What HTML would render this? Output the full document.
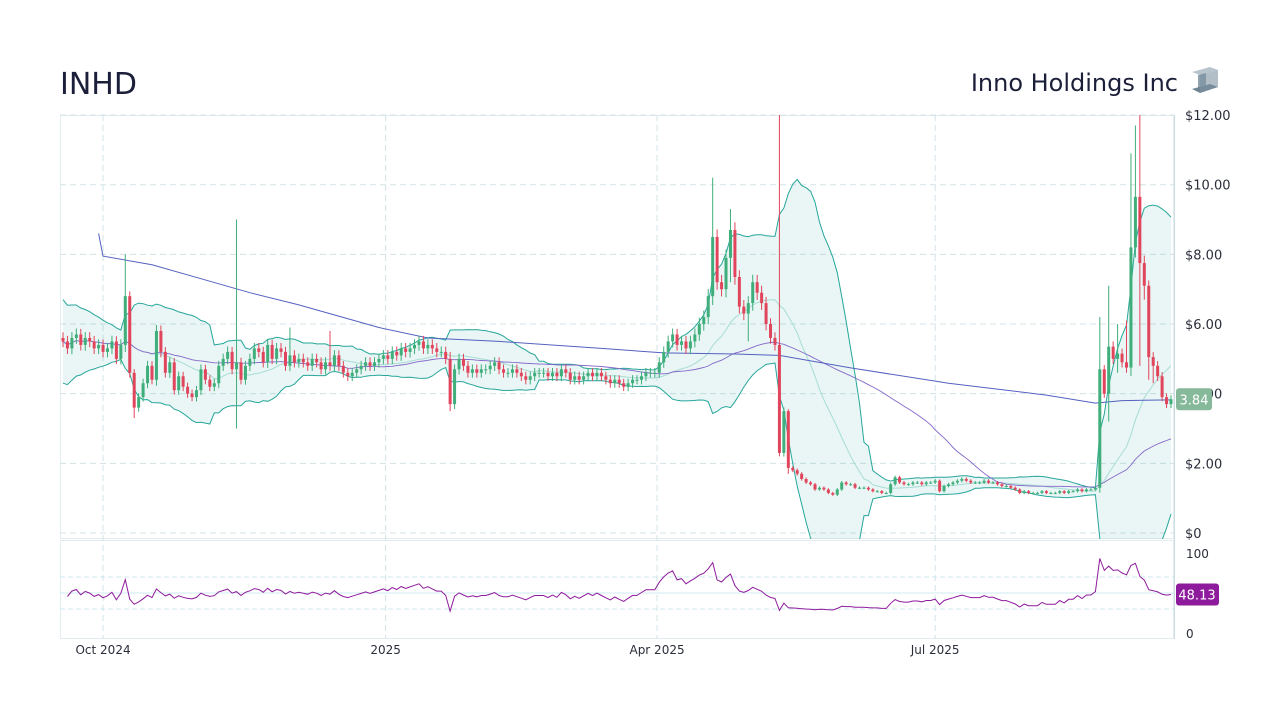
<!DOCTYPE html>
<html><head><meta charset="utf-8"><style>
body{margin:0;background:#fff;width:1280px;height:720px;overflow:hidden;font-family:"Liberation Sans","DejaVu Sans",sans-serif}
</style></head><body>
<svg id="chart" width="1280" height="720" xmlns="http://www.w3.org/2000/svg" font-family="DejaVu Sans, Liberation Sans, sans-serif">
<defs><clipPath id="pc"><rect x="60" y="115" width="1114" height="424"/></clipPath>
<clipPath id="rc"><rect x="60" y="540" width="1114" height="99"/></clipPath></defs>
<text x="60" y="94" font-size="30" fill="#1c1f3a">INHD</text>
<text x="1178" y="91" font-size="24" fill="#1c1f3a" text-anchor="end">Inno Holdings Inc</text>
<g>
<polygon points="1192,72 1210,67 1218,70 1200,75" fill="#b8c4cc"/>
<polygon points="1198,75 1206,73 1206,90 1198,92" fill="#8fa2ae"/>
<polygon points="1192,89 1210,84 1218,87 1200,93" fill="#6f8594"/>
<polygon points="1200,75 1218,70 1218,87 1200,92" fill="#7d93a3" opacity="0.6"/>
</g>
<g id="grid"></g>
<g id="plot" clip-path="url(#pc)"></g>
<g id="rsi" clip-path="url(#rc)"></g>
<g id="axes"></g>
</svg>
<script>
const closes=[5.5,5.3,5.6,5.7,5.4,5.6,5.5,5.3,5.4,5.2,5.3,5.5,5.0,5.4,
6.8,4.6,3.6,3.9,4.3,4.8,4.4,5.8,5.2,4.6,4.9,4.1,4.5,4.2,4.0,3.9,4.1,4.7,4.4,4.2,4.3,4.8,5.0,5.2,4.7,4.9,4.4,4.8,5.0,5.3,5.2,4.9,5.4,5.0,5.3,5.2,4.8,5.1,
4.9,5.0,4.9,4.8,5.0,4.9,4.7,4.9,4.8,5.1,4.8,4.6,4.5,4.6,4.7,4.8,4.9,4.8,4.9,5.0,5.1,5.0,5.2,5.1,5.3,5.2,5.3,5.4,5.5,5.3,5.4,5.3,5.2,5.2,5.0,
3.7,4.7,5.0,4.8,4.6,4.7,4.6,4.7,4.7,4.8,4.9,4.7,4.6,4.6,4.7,4.6,4.5,4.4,4.5,4.6,4.6,4.6,4.5,4.6,4.5,4.7,4.6,4.4,4.5,4.4,4.5,4.6,4.5,4.6,4.5,4.4,4.3,4.4,4.3,4.2,4.3,4.4,4.4,4.5,4.6,4.6,4.6,
4.9,5.2,5.5,5.7,5.4,5.5,5.3,5.5,5.7,6.0,6.2,6.8,
8.5,7.2,7.0,7.9,8.7,7.35,6.5,6.3,6.6,7.2,6.9,6.6,6.0,5.6,5.4,2.3,3.5,1.87,1.8,1.7,
1.55,1.45,1.4,1.25,1.3,1.25,1.15,1.1,1.25,1.45,1.4,1.4,1.3,1.3,1.3,1.25,1.2,1.2,1.15,1.15,
1.4,1.6,1.45,1.4,1.4,1.45,1.45,1.4,1.45,1.45,1.5,1.2,1.35,1.4,1.45,1.5,1.55,1.5,1.45,1.45,
1.45,1.5,1.45,1.45,1.4,1.35,1.35,1.3,1.25,1.15,1.2,1.15,1.15,1.15,1.2,1.15,1.15,1.15,1.2,1.15,
1.2,1.2,1.25,1.2,1.25,1.25,1.3,4.7,4.0,5.35,5.0,5.15,4.9,4.75,8.2,9.65,7.75,7.1,5.05,4.8,4.5,3.9,3.7,3.84];
const firstOpen=5.6;
const spikeIdx=[14,16,39,51,60,87,146,150,154,161,163,233,235,237,239,240,241,242,243,244,245];
const spikeHigh=[8.0,4.6,9.0,5.9,5.8,5.2,10.2,9.3,6.7,12.5,3.5,6.2,7.1,6.0,6.1,10.9,11.7,12.5,7.7,6.9,5.1];
const spikeLow=[5.6,3.3,3.0,4.8,4.7,3.5,6.9,7.2,5.5,2.2,1.7,1.3,3.2,4.6,4.6,4.7,8.0,4.8,6.7,4.4,4.3];
const ma200Idx=[8,9,20,31,42,53,71,82,98,121,135,151,161,177,199,221,232,238,249];
const ma200Val=[8.6,7.95,7.7,7.3,6.9,6.55,5.9,5.6,5.5,5.3,5.17,5.14,5.1,4.74,4.3,3.96,3.73,3.8,3.82];
const priceTicks=[0,2,4,6,8,10,12];
const dateLabels=["Oct 2024","2025","Apr 2025","Jul 2025"];
const dateIdx=[9,72.5,133.5,196];
const rsiTicks=[0,100];

const NS="http://www.w3.org/2000/svg";
const n=closes.length;
const X=i=>63+i*(1171-63)/(n-1);
const Y=p=>533-p*34.83;
const RY=v=>633-v*0.8;
function mk(tag,attrs,parent){const e=document.createElementNS(NS,tag);for(const k in attrs)e.setAttribute(k,attrs[k]);parent.appendChild(e);return e;}
const grid=document.getElementById('grid'),plot=document.getElementById('plot'),rsiG=document.getElementById('rsi'),axes=document.getElementById('axes');

mk('rect',{x:60.5,y:115.5,width:1113,height:423,fill:'none',stroke:'#e3ecef'},grid);
mk('rect',{x:60.5,y:540.5,width:1113,height:98,fill:'none',stroke:'#e3ecef'},grid);
priceTicks.forEach(p=>{
 const l=mk('line',{x1:60,x2:1174,y1:Y(p),y2:Y(p),stroke:'#d3e3e8','stroke-dasharray':'6,4'},grid);
 
 
 const t=mk('text',{x:1185,y:Y(p)+5,'font-size':13,fill:'#2a2e3a'},axes);
 t.textContent='$'+(p===0?'0':p.toFixed(2));
 
 
});
dateIdx.forEach((d,k)=>{
 const l=mk('line',{x1:X(d),x2:X(d),y1:115,y2:639,stroke:'#d3e3e8','stroke-dasharray':'6,4'},grid);
 
 
 const t=mk('text',{x:X(d),y:654,'font-size':12,fill:'#2a2e3a','text-anchor':'middle'},axes);
 t.textContent=dateLabels[k];
 
 
});
mk('line',{x1:1174.5,x2:1174.5,y1:115,y2:639,stroke:'#c9dde3'},axes);
[70,50,30].forEach(v=>{mk('line',{x1:60,x2:1174,y1:RY(v),y2:RY(v),stroke:'#bfe3ec','stroke-dasharray':v===50?'':'5,3','stroke-width':0.8},grid);});
rsiTicks.forEach(v=>{
 const t=mk('text',{x:1186,y:RY(v)+5,'font-size':12,fill:'#2a2e3a'},axes);
 t.textContent=String(v);
 
 
});

const mid=[],up=[],lo=[],ma50=[];
for(let i=0;i<n;i++){
 const s=Math.max(0,i-19),w=closes.slice(s,i+1);const m=w.reduce((a,b)=>a+b,0)/w.length;
 let sd=Math.sqrt(w.reduce((a,b)=>a+(b-m)*(b-m),0)/w.length);
 if(i<20) sd=Math.max(sd,0.6*(1-i/20));
 mid.push(m);up.push(m+2*sd);lo.push(m-2*sd);
 const s5=Math.max(0,i-49),w5=closes.slice(s5,i+1);ma50.push(w5.reduce((a,b)=>a+b,0)/w5.length);
}
const pts=a=>a.map((v,i)=>X(i).toFixed(1)+','+Y(v).toFixed(1));
const band=mk('polygon',{points:pts(up).concat(pts(lo).reverse()).join(' '),fill:'rgba(38,166,154,0.1)',stroke:'none'},plot);


[[up,'bollinger-upper','#26a69a',1],[lo,'bollinger-lower','#26a69a',1],[mid,'bollinger-mid','#a7ddd4',1],[ma50,'ma50-line','#8567c9',0.9]].forEach(([a,nm,c,w])=>{
 const l=mk('polyline',{points:pts(a).join(' '),fill:'none',stroke:c,'stroke-width':w},plot);
 
 
});
const m2=mk('polyline',{points:ma200Idx.map((d,k)=>X(d).toFixed(1)+','+Y(ma200Val[k]).toFixed(1)).join(' '),fill:'none',stroke:'#5561c0','stroke-width':1},plot);



for(let i=0;i<n;i++){
 const o=i===0?firstOpen:closes[i-1],c=closes[i];
 let h=Math.max(o,c)+0.03*c,l=Math.min(o,c)-0.03*c;
 const k=spikeIdx.indexOf(i);if(k>=0){h=Math.max(h,spikeHigh[k]);l=Math.min(l,spikeLow[k]);}
 const col=c>=o?'#3fae7a':'#e0455c';
 const g=mk('g',{},plot);
 
 
 mk('line',{x1:X(i),x2:X(i),y1:Y(h),y2:Y(l),stroke:col,'stroke-width':1},g);
 const yt=Y(Math.max(o,c)),yb=Y(Math.min(o,c));
 mk('rect',{x:X(i)-1.5,y:yt,width:3,height:Math.max(1,yb-yt),fill:col},g);
}

const rsi=[];let ag=0.08,al=0.08;
for(let i=1;i<n;i++){
 const d=closes[i]-closes[i-1],gn=Math.max(d,0),ls=Math.max(-d,0);
 ag=(ag*13+gn)/14;al=(al*13+ls)/14;
 rsi.push([i,al===0?100:100-100/(1+ag/al)]);
}
const rl=mk('polyline',{points:rsi.map(([i,v])=>X(i).toFixed(1)+','+RY(v).toFixed(1)).join(' '),fill:'none',stroke:'#8e1a9c','stroke-width':1},rsiG);



const last=closes[n-1];
const pl=mk('g',{},axes);


mk('rect',{x:1176,y:Y(last)-11,width:36,height:22,rx:3,fill:'#86b99a'},pl);
mk('text',{x:1194,y:Y(last)+5,'font-size':13,fill:'#fff','text-anchor':'middle'},pl).textContent=last.toFixed(2);
const lr=rsi[rsi.length-1][1];
const rlab=mk('g',{},axes);


mk('rect',{x:1176,y:RY(lr)-11,width:43,height:22,rx:3,fill:'#8e1a9c'},rlab);
mk('text',{x:1197,y:RY(lr)+5,'font-size':13,fill:'#fff','text-anchor':'middle'},rlab).textContent=lr.toFixed(2);
</script>
</body></html>
